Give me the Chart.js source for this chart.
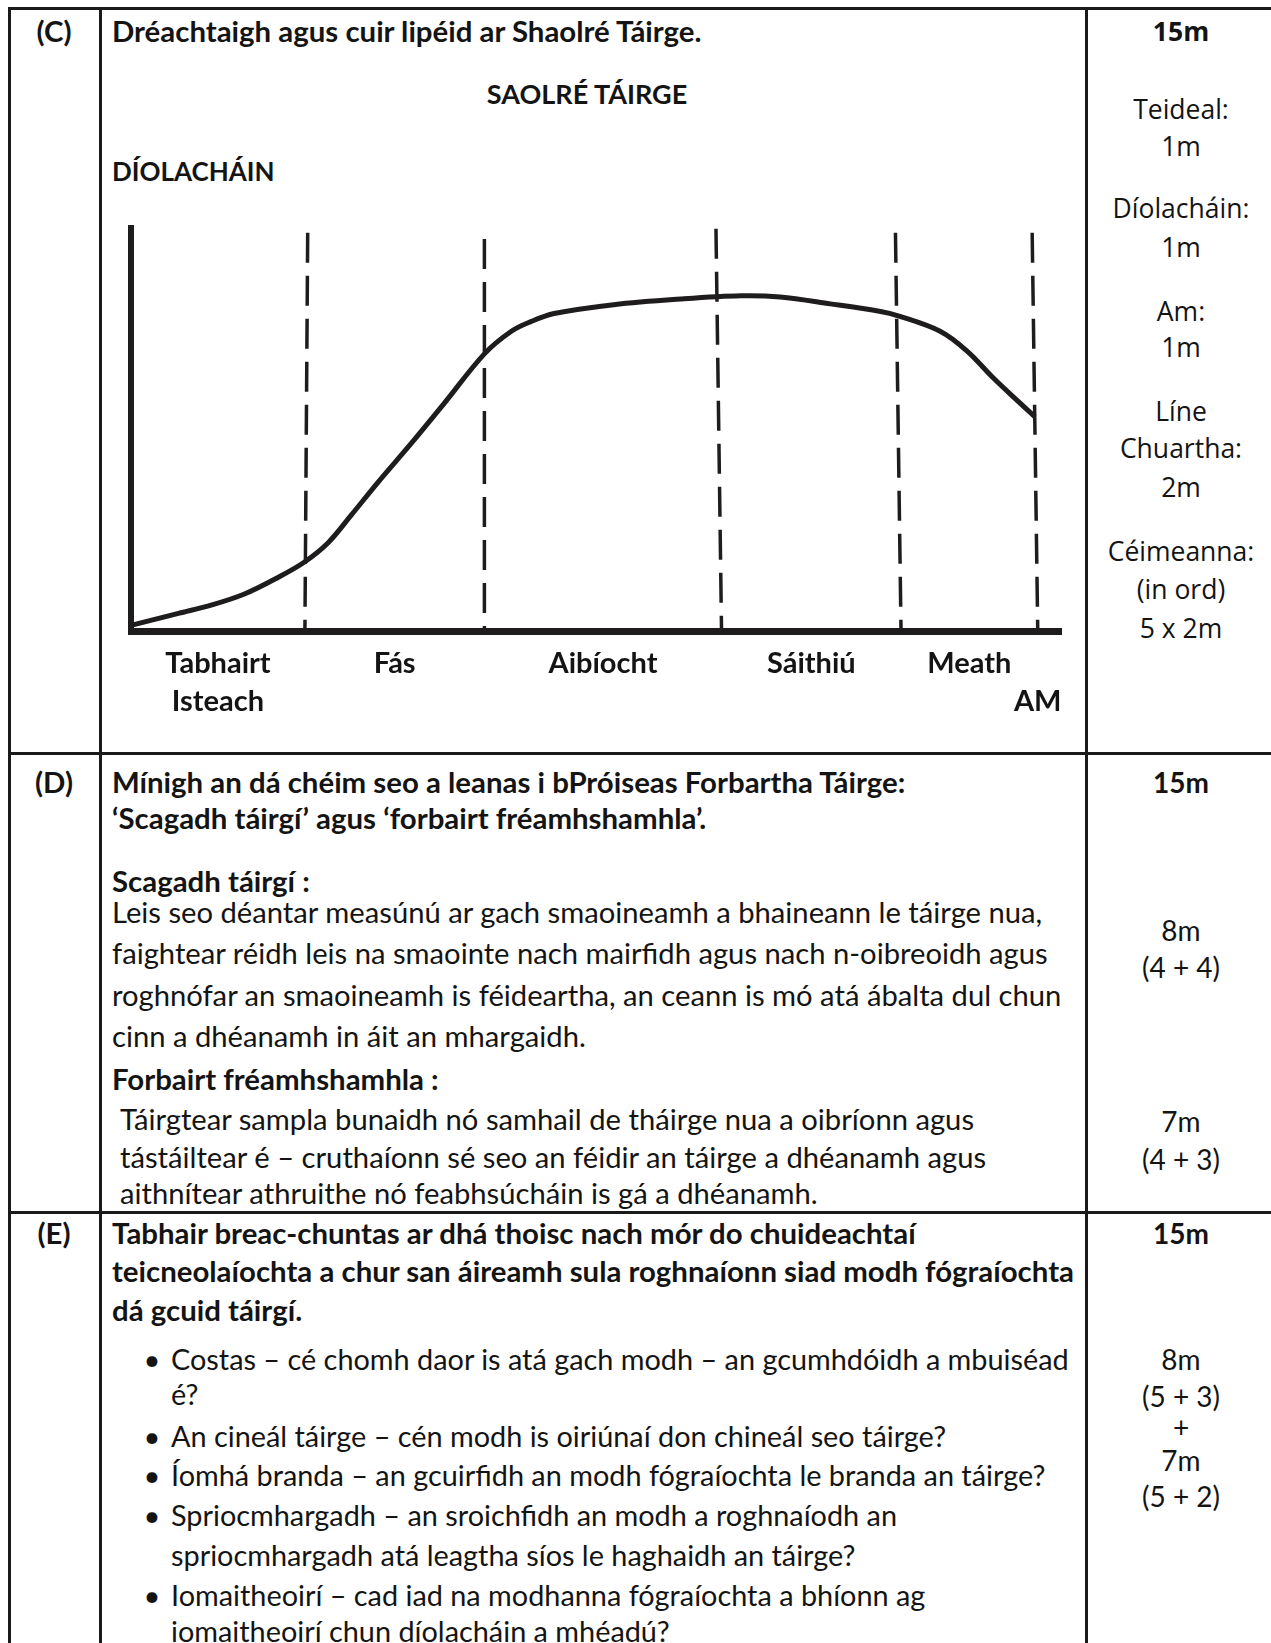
<!DOCTYPE html>
<html>
<head>
<meta charset="utf-8">
<script src="https://cdn.jsdelivr.net/npm/chart.js@4.4.1/dist/chart.umd.min.js"></script>
<style>
  html, body { margin:0; padding:0; background:#fff; }
  #page { position:relative; width:1271px; height:1643px; overflow:hidden; font-family:Lato, sans-serif; color:#141414; }
  .ln { position:absolute; background:#1a1a1a; }
  .t { position:absolute; white-space:nowrap; font-size:29.2px; line-height:36px; height:36px; }
  .b { font-weight:bold; font-size:29.4px; }
  .c { transform:translateX(-50%); }
  .m { font-size:28px; }
  .bl { font-size:28.85px; }
  .os { font-family:"Open Sans", sans-serif; font-size:26.5px; }
</style>
</head>
<body>
<div id="page">
  <canvas id="plc" width="985" height="540" style="position:absolute;left:100px;top:200px;"></canvas>
</div>
<script>
// ---- chart data (time vs sales, 0..100 on both axes) ----
const timeX  = [0, 5.1, 8.7, 12.2, 15.8, 18.7, 21.2, 23.7, 26.6, 30.2, 33.7, 38.0, 40.9, 43.0, 45.5, 51.9, 59.1, 65.6, 69.8, 75.2, 80.6, 82.4, 87.0, 89.9, 92.7, 95.6, 97.2];
const salesY = [1.5, 4.5, 6.6, 9.3, 13.4, 17.3, 22.0, 28.9, 37.1, 46.8, 56.6, 68.8, 74.4, 76.8, 78.8, 81.0, 82.4, 83.2, 82.9, 81.2, 79.3, 78.3, 74.4, 69.5, 62.9, 56.6, 53.2];

// stage boundaries (dashed lines) - slightly slanted, as in the drawing
const stageTopX    = [19.0, 38.0, 62.9, 82.2, 96.9];
const stageBottomX = [18.7, 38.0, 63.5, 82.8, 97.5];
const stageTopY    = [98.8, 97.3, 99.8, 98.8, 98.8];

const stageNames = [["Tabhairt", "Isteach"], "Fás", "Aibíocht", "Sáithiú", "Meath"];
const timeLabel  = "AM";

const INK = "#1f1c1d";

// ---- text helpers ----
const page = document.getElementById("page");
function T(x, y, s, cls, size){
  const d = document.createElement("div");
  d.className = "t " + (cls || "");
  d.style.left = x + "px";
  d.style.top = (y - 18) + "px";
  if (size) d.style.fontSize = size + "px";
  d.textContent = s;
  page.appendChild(d);
}
function L(x, y, w, h){
  const d = document.createElement("div");
  d.className = "ln";
  d.style.left = x + "px"; d.style.top = y + "px";
  d.style.width = w + "px"; d.style.height = h + "px";
  page.appendChild(d);
}

// table rules
L(8, 7, 1270, 3);
L(8, 752, 1270, 3);
L(8, 1211, 1270, 3);
L(8, 7, 2.5, 1640);
L(99, 7, 2.5, 1640);
L(1085, 7, 2.5, 1640);

// row C
T(54, 31, "(C)", "b c");
T(112, 31, "Dréachtaigh agus cuir lipéid ar Shaolré Táirge.", "b");
T(587, 94, "SAOLRÉ TÁIRGE", "b c", 27);
T(112, 171, "DÍOLACHÁIN", "b", 26);
T(1181, 31, "15m", "b c os");
[["Teideal:",109],["1m",146],["Díolacháin:",208],["1m",247],["Am:",311],["1m",347],
 ["Líne",411],["Chuartha:",448],["2m",487],["Céimeanna:",551],["(in ord)",589],["5 x 2m",628]]
  .forEach(([s,y]) => T(1181, y, s, "c os"));

// row D
T(54, 782, "(D)", "b c");
T(112, 782, "Mínigh an dá chéim seo a leanas i bPróiseas Forbartha Táirge:", "b");
T(112, 818, "‘Scagadh táirgí’ agus ‘forbairt fréamhshamhla’.", "b");
T(112, 881, "Scagadh táirgí :", "b");
T(112, 912, "Leis seo déantar measúnú ar gach smaoineamh a bhaineann le táirge nua,");
T(112, 953, "faightear réidh leis na smaointe nach mairfidh agus nach n-oibreoidh agus");
T(112, 995, "roghnófar an smaoineamh is féideartha, an ceann is mó atá ábalta dul chun");
T(112, 1036, "cinn a dhéanamh in áit an mhargaidh.");
T(112, 1079, "Forbairt fréamhshamhla :", "b");
T(120, 1119, "Táirgtear sampla bunaidh nó samhail de tháirge nua a oibríonn agus");
T(120, 1157, "tástáiltear é – cruthaíonn sé seo an féidir an táirge a dhéanamh agus");
T(120, 1193, "aithnítear athruithe nó feabhsúcháin is gá a dhéanamh.");
T(1181, 782, "15m", "b c m");
T(1181, 930, "8m", "c m");
T(1181, 967, "(4 + 4)", "c m");
T(1181, 1121, "7m", "c m");
T(1181, 1159, "(4 + 3)", "c m");

// row E
T(54, 1233, "(E)", "b c");
T(112, 1233, "Tabhair breac-chuntas ar dhá thoisc nach mór do chuideachtaí", "b");
T(112, 1271, "teicneolaíochta a chur san áireamh sula roghnaíonn siad modh fógraíochta", "b");
T(112, 1310, "dá gcuid táirgí.", "b");
[[1359,true,"Costas – cé chomh daor is atá gach modh – an gcumhdóidh a mbuiséad"],
 [1394,false,"é?"],
 [1436,true,"An cineál táirge – cén modh is oiriúnaí don chineál seo táirge?"],
 [1475,true,"Íomhá branda – an gcuirfidh an modh fógraíochta le branda an táirge?"],
 [1515,true,"Spriocmhargadh – an sroichfidh an modh a roghnaíodh an"],
 [1555,false,"spriocmhargadh atá leagtha síos le haghaidh an táirge?"],
 [1595,true,"Iomaitheoirí – cad iad na modhanna fógraíochta a bhíonn ag"],
 [1631,false,"iomaitheoirí chun díolacháin a mhéadú?"]]
  .forEach(([y,bul,s]) => { if (bul) T(152, y, "•", "c"); T(171, y, s, "bl"); });
T(1181, 1233, "15m", "b c m");
T(1181, 1359, "8m", "c m");
T(1181, 1396, "(5 + 3)", "c m");
T(1181, 1427, "+", "c m");
T(1181, 1460, "7m", "c m");
T(1181, 1496, "(5 + 2)", "c m");

// ---- chart ----
const curve = timeX.map((x, i) => ({ x, y: salesY[i] }));
const stageSets = stageTopX.map((tx, i) => ({
  data: [{ x: tx, y: stageTopY[i] }, { x: stageBottomX[i], y: 0 }],
  borderColor: INK, borderWidth: 3.5, borderDash: [30, 13],
  pointRadius: 0, tension: 0, clip: false
}));

const tickVals = stageNames.map((_, i) => {
  const a = i === 0 ? 0 : stageBottomX[i - 1];
  return (a + stageBottomX[i]) / 2;
});
tickVals.push(stageBottomX[stageBottomX.length - 1]);
const tickText = stageNames.concat([["", timeLabel]]);

new Chart(document.getElementById("plc"), {
  type: "line",
  data: {
    datasets: [{
      data: curve, borderColor: INK, borderWidth: 5,
      pointRadius: 0, tension: 0.35, clip: false
    }].concat(stageSets)
  },
  options: {
    responsive: false,
    animation: false,
    layout: { padding: { left: 31, top: 28, right: 24, bottom: 0 } },
    plugins: { legend: { display: false }, tooltip: { enabled: false } },
    scales: {
      x: {
        type: "linear", min: 0, max: 100,
        grid: { display: false, drawTicks: false },
        border: { display: true, width: 7, color: INK },
        afterFit: (ax) => { ax.height = 108.5; },
        afterBuildTicks: (ax) => { ax.ticks = tickVals.map(v => ({ value: v })); },
        ticks: {
          autoSkip: false, maxRotation: 0, minRotation: 0, padding: 13.6,
          color: "#141414",
          font: { family: "Lato", weight: "bold", size: 29, lineHeight: 1.3 },
          callback: (v, i) => tickText[i]
        }
      },
      y: {
        type: "linear", min: 0, max: 100,
        grid: { display: false, drawTicks: false },
        border: { display: true, width: 6, color: INK },
        ticks: { display: false }
      }
    }
  }
});
</script>
</body>
</html>
